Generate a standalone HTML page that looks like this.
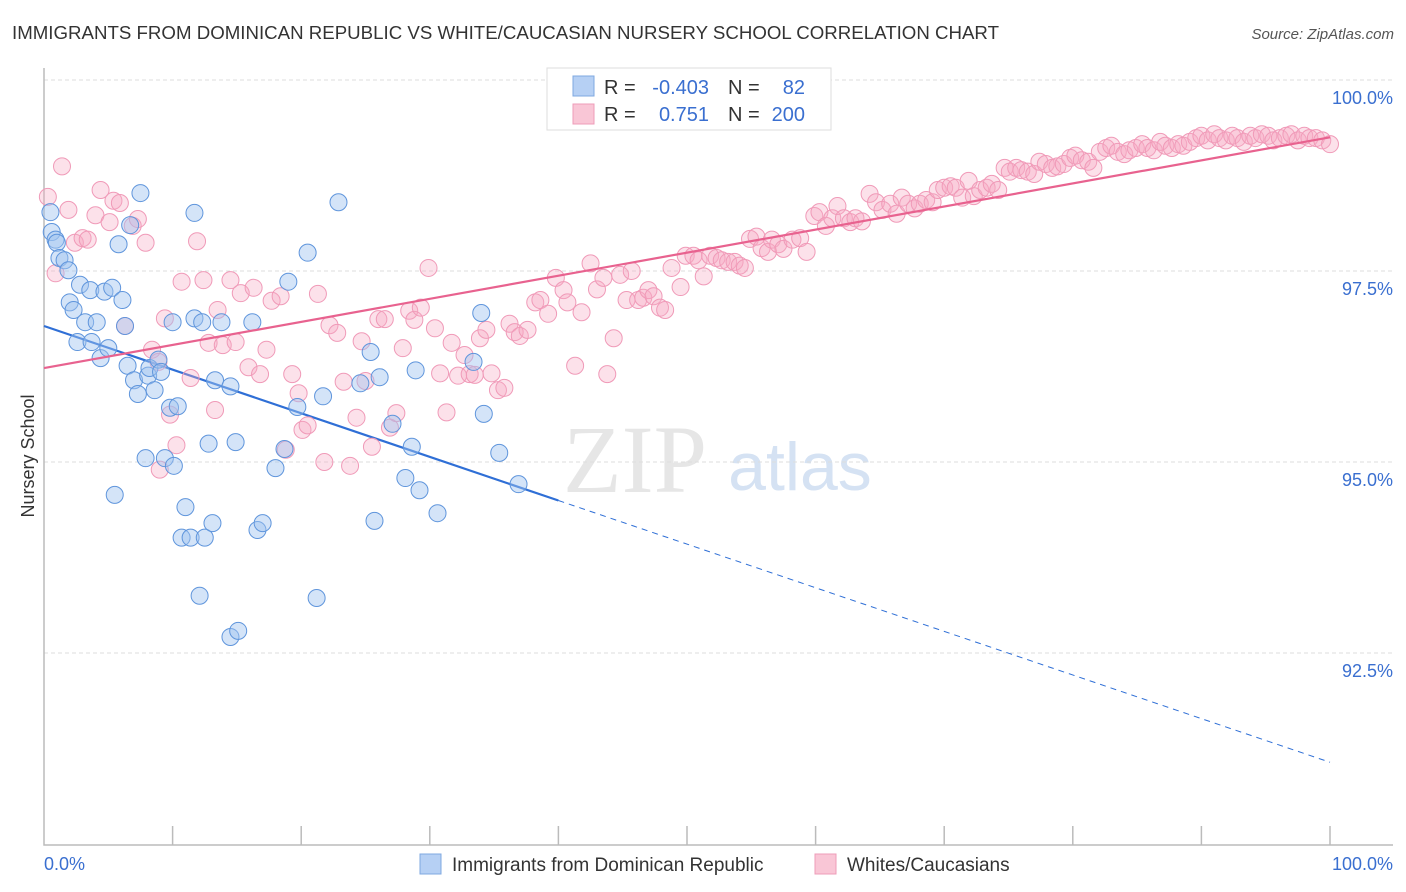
<!DOCTYPE html>
<html><head><meta charset="utf-8"><style>
body{margin:0;background:#fff;font-family:"Liberation Sans",sans-serif;}
svg{display:block}
</style></head><body>
<svg id="chart" width="1406" height="892" xmlns="http://www.w3.org/2000/svg">
<text x="12" y="39" font-size="18" fill="#333" textLength="987" lengthAdjust="spacingAndGlyphs">IMMIGRANTS FROM DOMINICAN REPUBLIC VS WHITE/CAUCASIAN NURSERY SCHOOL CORRELATION CHART</text>
<text x="1394" y="39" font-size="15" fill="#555" font-style="italic" text-anchor="end">Source: ZipAtlas.com</text>
<text x="34" y="456" font-size="18" fill="#333" text-anchor="middle" transform="rotate(-90 34 456)">Nursery School</text>
<g>
<text x="635" y="492" font-size="96" fill="#e6e6e6" font-family="Liberation Serif,serif" text-anchor="middle">ZIP</text>
<text x="800" y="490" font-size="68" fill="#d5e2f3" text-anchor="middle">atlas</text>
</g>
<g id="grid"></g>
<g id="axes"></g>
<g id="trends"></g>
<g id="pts"></g>
<g>
<rect x="547" y="68" width="284" height="62" fill="#fff" stroke="#ddd"/>
<rect x="573" y="76" width="21" height="20" fill="#b6d0f4" stroke="#7fa8e0"/>
<rect x="573" y="104" width="21" height="20" fill="#f9c6d6" stroke="#ee9cb8"/>
<text x="604" y="94" font-size="20" fill="#333">R = </text><text x="709" y="94" font-size="20" fill="#3a6fd0" text-anchor="end">-0.403</text>
<text x="728" y="94" font-size="20" fill="#333">N = </text><text x="805" y="94" font-size="20" fill="#3a6fd0" text-anchor="end">82</text>
<text x="604" y="121" font-size="20" fill="#333">R = </text><text x="709" y="121" font-size="20" fill="#3a6fd0" text-anchor="end">0.751</text>
<text x="728" y="121" font-size="20" fill="#333">N = </text><text x="805" y="121" font-size="20" fill="#3a6fd0" text-anchor="end">200</text>
</g>
<g>
<rect x="420" y="854" width="21" height="20" fill="#b6d0f4" stroke="#7fa8e0"/>
<text x="452" y="871" font-size="19" fill="#333">Immigrants from Dominican Republic</text>
<rect x="815" y="854" width="21" height="20" fill="#f9c6d6" stroke="#ee9cb8"/>
<text x="847" y="871" font-size="19" fill="#333">Whites/Caucasians</text>
</g>
</svg>
<script>
const yTicks=[100,97.5,95,92.5];
const yTickLabels=["100.0%","97.5%","95.0%","92.5%"];
const blueX=[0.5,0.6,0.9,1.0,1.2,1.6,1.9,2.0,2.3,2.8,3.2,3.6,2.6,3.7,4.1,4.4,5.0,4.7,5.3,5.8,6.1,6.3,6.5,7.0,7.3,7.5,6.7,8.1,8.2,8.6,8.9,9.1,9.8,10.4,10.0,11.7,11.7,12.3,13.8,16.2,13.3,14.5,12.8,14.9,7.9,9.4,10.1,5.5,11.0,10.7,11.4,12.5,13.1,16.6,17.0,12.1,14.5,15.1,18.0,18.7,19.0,19.7,20.5,21.7,21.2,22.9,24.6,25.4,26.1,27.1,25.7,28.1,28.6,28.9,29.2,30.6,33.4,34.0,34.2,35.4,36.9];
const blueY=[98.27,98.01,97.91,97.87,97.67,97.64,97.51,97.09,96.99,97.32,96.83,97.25,96.57,96.57,96.83,96.36,96.49,97.23,97.28,97.85,97.12,96.78,96.26,96.07,95.89,98.52,98.10,96.13,96.23,95.94,96.34,96.18,95.71,95.73,96.83,98.26,96.88,96.83,96.83,96.83,96.07,95.99,95.24,95.26,95.05,95.05,94.95,94.57,94.41,94.01,94.01,94.01,94.20,94.11,94.20,93.25,92.71,92.79,94.92,95.17,97.36,95.72,97.74,95.86,93.22,98.40,96.03,96.44,96.11,95.50,94.23,94.79,95.20,96.20,94.63,94.33,96.31,96.95,95.63,95.12,94.71];
const pinkX=[0.3,0.9,1.4,1.9,2.4,3.0,3.4,4.0,4.4,5.1,5.4,5.9,6.3,6.9,7.3,7.9,8.4,8.9,9.4,9.8,10.3,9.0,10.7,11.4,11.9,12.4,12.8,13.3,13.5,13.9,14.5,14.9,15.3,15.9,16.3,16.8,17.3,17.7,18.4,18.8,19.3,19.8,20.1,20.5,21.3,21.8,22.2,22.8,23.3,23.8,24.3,24.7,25.0,25.5,26.0,26.5,26.9,27.4,27.9,28.4,28.8,29.3,29.9,30.4,30.8,31.3,31.7,32.2,32.7,33.1,33.5,33.9,34.4,34.8,35.3,35.8,36.2,36.6,37.0,37.6,38.2,38.6,39.2,39.8,40.4,40.7,41.3,41.8,42.5,43.0,43.5,43.8,44.3,44.8,45.3,45.7,46.2,46.6,47.0,47.4,47.9,48.3,48.8,49.5,49.9,50.5,50.9,51.3,51.8,52.3,52.7,53.2,53.7,54.1,54.5,54.9,55.4,55.8,56.3,56.6,57.1,57.5,58.2,58.8,59.3,59.9,60.3,60.8,61.3,61.7,62.2,62.7,63.1,63.6,64.2,64.7,65.2,65.8,66.3,66.7,67.2,67.7,68.1,68.6,69.1,69.5,70.0,70.5,70.9,71.4,71.9,72.3,72.8,73.3,73.7,74.2,74.7,75.1,75.6,76.0,76.5,77.0,77.4,77.9,78.4,78.8,79.3,79.8,80.2,80.7,81.2,81.6,82.1,82.6,83.0,83.5,84.0,84.4,84.9,85.4,85.8,86.3,86.8,87.2,87.7,88.2,88.6,89.1,89.6,90.0,90.5,91.0,91.4,91.9,92.4,92.8,93.3,93.8,94.2,94.7,95.2,95.6,96.1,96.6,97.0,97.5,98.0,98.4,98.9,99.4,100];
const pinkY=[98.47,97.47,98.87,98.30,97.87,97.93,97.91,98.23,98.56,98.14,98.42,98.39,96.78,98.09,98.18,97.87,96.47,96.31,96.88,95.62,95.22,94.90,97.36,96.10,97.89,97.38,96.56,95.68,96.99,96.53,97.38,96.57,97.21,96.24,97.28,96.15,96.47,97.11,97.17,95.16,96.15,95.90,95.42,95.48,97.20,95.00,96.79,96.69,96.05,94.95,95.58,96.58,96.06,95.20,96.87,96.87,95.45,95.64,96.49,96.98,96.86,97.02,97.54,96.75,96.16,95.65,96.56,96.13,96.40,96.15,96.14,96.62,96.73,96.16,95.94,95.97,96.81,96.70,96.65,96.73,97.09,97.12,96.94,97.41,97.25,97.09,96.26,96.96,97.60,97.26,97.41,96.15,96.62,97.45,97.12,97.50,97.12,97.15,97.25,97.17,97.02,96.99,97.54,97.29,97.70,97.70,97.64,97.43,97.70,97.67,97.64,97.62,97.62,97.57,97.54,97.92,97.95,97.80,97.75,97.91,97.85,97.79,97.91,97.93,97.75,98.22,98.27,98.09,98.19,98.35,98.19,98.14,98.19,98.15,98.51,98.40,98.30,98.38,98.25,98.46,98.38,98.32,98.38,98.43,98.40,98.56,98.59,98.61,98.59,98.46,98.68,98.48,98.56,98.59,98.64,98.56,98.85,98.80,98.85,98.82,98.80,98.77,98.93,98.90,98.85,98.87,98.90,98.98,99.01,98.95,98.93,98.85,99.06,99.11,99.14,99.06,99.03,99.08,99.11,99.16,99.11,99.08,99.19,99.14,99.11,99.16,99.14,99.19,99.24,99.27,99.21,99.29,99.24,99.21,99.27,99.24,99.19,99.27,99.24,99.29,99.27,99.21,99.24,99.27,99.29,99.21,99.27,99.24,99.24,99.21,99.16];
const blueTrendEnds=[96.78,91.07];
const pinkTrendEnds=[96.23,99.25];

const NS="http://www.w3.org/2000/svg";
const X=v=>44+v*12.86;
const Y=v=>80+(100-v)*76.4;
function mk(tag,attrs,parent){const e=document.createElementNS(NS,tag);for(const k in attrs)e.setAttribute(k,attrs[k]);parent.appendChild(e);return e;}
const grid=document.getElementById('grid'),axes=document.getElementById('axes'),trends=document.getElementById('trends'),pts=document.getElementById('pts');
yTicks.forEach((t,i)=>{
  const l=mk('line',{x1:44,x2:1393,y1:Y(t),y2:Y(t),stroke:'#ddd','stroke-dasharray':'4,3'},grid);
  
  
  const tx=mk('text',{x:1393,y:Y(t)+24,'font-size':18,fill:'#3a6fd0','text-anchor':'end'},grid);
  tx.textContent=yTickLabels[i];
  
  
});
const ax=mk('path',{d:'M44 68V845H1393',fill:'none',stroke:'#bbb','stroke-width':1.5},axes);


for(let i=1;i<=10;i++){
  const t=mk('line',{x1:X(i*10),x2:X(i*10),y1:826,y2:845,stroke:'#bbb','stroke-width':1.5},axes);
  
  
}
const xl0=mk('text',{x:44,y:870,'font-size':18,fill:'#3a6fd0'},axes);xl0.textContent='0.0%';


const xl1=mk('text',{x:1393,y:870,'font-size':18,fill:'#3a6fd0','text-anchor':'end'},axes);xl1.textContent='100.0%';



pinkX.forEach((x,i)=>{
  const c=mk('circle',{cx:X(x),cy:Y(pinkY[i]),r:8.5,fill:'rgba(246,170,196,0.35)',stroke:'#f09ab8','stroke-width':1},pts);
  
  
});
blueX.forEach((x,i)=>{
  const c=mk('circle',{cx:X(x),cy:Y(blueY[i]),r:8.5,fill:'rgba(160,195,240,0.45)',stroke:'#5f95dc','stroke-width':1},pts);
  
  
});
const by=x=>blueTrendEnds[0]+(blueTrendEnds[1]-blueTrendEnds[0])*x/100;
const b1=mk('line',{x1:X(0),y1:Y(by(0)),x2:X(40),y2:Y(by(40)),stroke:'#2f6fd6','stroke-width':2.2},trends);


const b2=mk('line',{x1:X(40),y1:Y(by(40)),x2:X(100),y2:Y(by(100)),stroke:'#2f6fd6','stroke-width':1,'stroke-dasharray':'6,5'},trends);


const p1=mk('line',{x1:X(0),y1:Y(pinkTrendEnds[0]),x2:X(100),y2:Y(pinkTrendEnds[1]),stroke:'#e8628f','stroke-width':2.2},pts);


</script>
</body></html>
